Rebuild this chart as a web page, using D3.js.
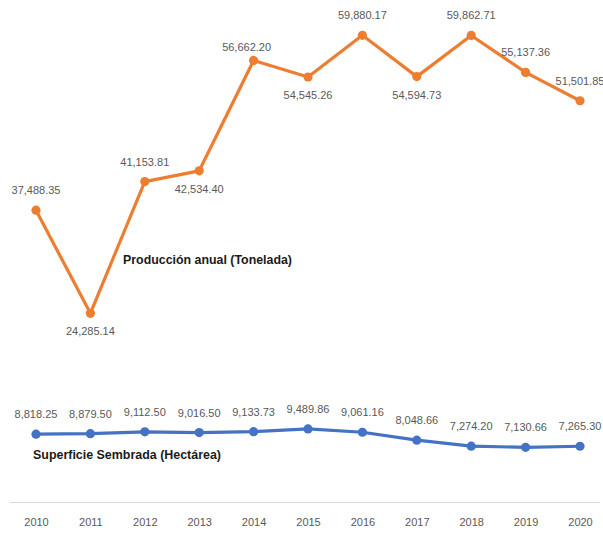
<!DOCTYPE html>
<html>
<head>
<meta charset="utf-8">
<script src="https://cdn.jsdelivr.net/npm/d3@7"></script>
<style>
  html, body { margin: 0; padding: 0; background: #fff; overflow: hidden; }
  svg { display: block; }
  .lbl { font-family: "Liberation Sans", Arial, sans-serif; fill: #595959; }
  .name { font-family: "Liberation Sans", Arial, sans-serif; font-weight: bold; fill: #1a1a1a; }
</style>
</head>
<body>
<svg id="chart" width="603" height="533"></svg>
<script>
const years = ["2010","2011","2012","2013","2014","2015","2016","2017","2018","2019","2020"];
const produccion = [37488.35, 24285.14, 41153.81, 42534.40, 56662.20, 54545.26, 59880.17, 54594.73, 59862.71, 55137.36, 51501.85];
const superficie = [8818.25, 8879.50, 9112.50, 9016.50, 9133.73, 9489.86, 9061.16, 8048.66, 7274.20, 7130.66, 7265.30];
// label placement for the production series: 1 = above the point, -1 = below
const produccionLabelSide = [1, -1, 1, -1, 1, -1, 1, -1, 1, 1, 1];
const produccionName = "Producción anual (Tonelada)";
const superficieName = "Superficie Sembrada (Hectárea)";

const svg = d3.select("#chart");
const x = d3.scalePoint().domain(years).range([36, 580]);
const y = d3.scaleLinear().domain([0, 60000]).range([503, 34.4]);
const fmt = d3.format(",.2f");

// baseline axis
const axis = d3.axisBottom(x).tickSize(0).tickPadding(15);
const gx = svg.append("g").attr("transform", `translate(0,${y(0)})`).call(axis);
gx.select(".domain").remove();
gx.append("line").attr("x1", 10).attr("x2", 600).attr("y1", -0.5).attr("y2", -0.5)
  .attr("stroke", "#d9d9d9").attr("stroke-width", 1);
gx.selectAll(".tick text")
  .attr("class", "lbl")
  .attr("font-size", 11)
  .style("fill", "#595959");

function drawSeries(values, color, sides, nudge) {
  const line = d3.line().x((d, i) => x(years[i])).y(d => y(d));
  const g = svg.append("g");
  g.append("path").datum(values)
    .attr("d", line)
    .attr("fill", "none")
    .attr("stroke", color)
    .attr("stroke-width", 3.2)
    .attr("stroke-linejoin", "round");
  g.selectAll("circle").data(values).join("circle")
    .attr("cx", (d, i) => x(years[i]))
    .attr("cy", d => y(d))
    .attr("r", 4.6)
    .attr("fill", color);
  g.selectAll("text").data(values).join("text")
    .attr("class", "lbl")
    .attr("font-size", 11)
    .attr("text-anchor", "middle")
    .attr("x", (d, i) => x(years[i]) + ((nudge[i] || [0, 0])[0]))
    .attr("y", (d, i) => y(d) + (sides[i] > 0 ? -16 : 22) + ((nudge[i] || [0, 0])[1]))
    .text(d => fmt(d));
}

// the 2014 production label sits a little left and closer to its point
drawSeries(produccion, "#ed7d31", produccionLabelSide, {4: [-7, 7]});
drawSeries(superficie, "#4472c4", superficie.map(() => 1), {});

svg.append("text").attr("class", "name").attr("font-size", 13.5)
  .attr("x", 123).attr("y", 264)
  .attr("textLength", 169).attr("lengthAdjust", "spacingAndGlyphs")
  .text(produccionName);
svg.append("text").attr("class", "name").attr("font-size", 13.5)
  .attr("x", 33).attr("y", 459)
  .attr("textLength", 188).attr("lengthAdjust", "spacingAndGlyphs")
  .text(superficieName);
</script>
</body>
</html>
